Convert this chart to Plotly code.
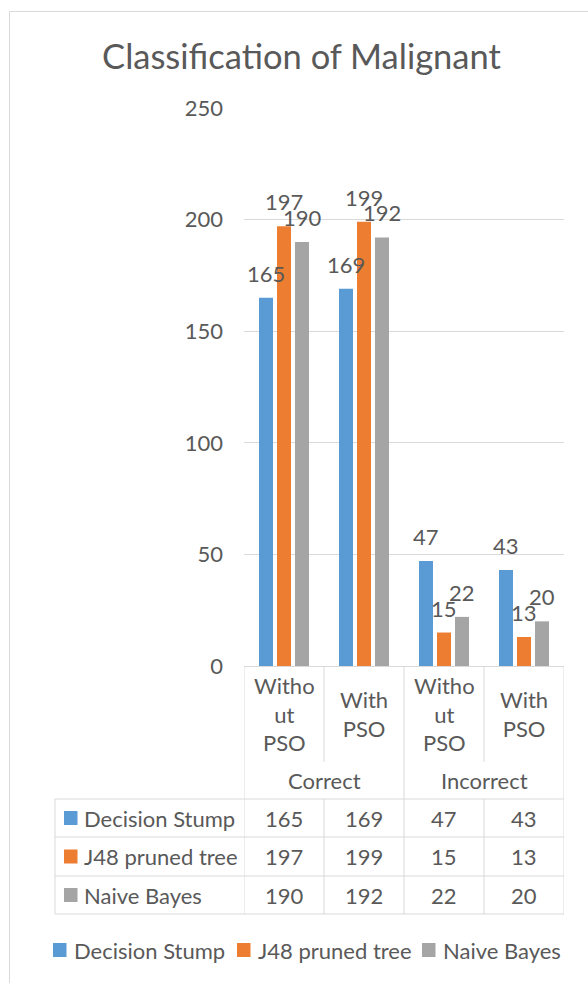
import plotly.graph_objects as go

# ---- data -------------------------------------------------------------
groups = ["Correct", "Correct", "Incorrect", "Incorrect"]
subgroups = ["Without PSO", "With PSO", "Without PSO", "With PSO"]
subgroup_labels = ["Witho<br>ut<br>PSO", "With<br>PSO", "Witho<br>ut<br>PSO", "With<br>PSO"]
group_labels = ["Correct", "Incorrect"]

series_names = ["Decision Stump", "J48 pruned tree", "Naive Bayes"]
decision_stump = [165, 169, 47, 43]
j48_pruned_tree = [197, 199, 15, 13]
naive_bayes = [190, 192, 22, 20]
series_values = [decision_stump, j48_pruned_tree, naive_bayes]
series_colors = ["#5B9BD5", "#ED7D31", "#A5A5A5"]

y_ticks = [0, 50, 100, 150, 200, 250]

# ---- styling ----------------------------------------------------------
FONT = "Lato"
TEXT = "#595959"
LINE = "#D9D9D9"
FS = 22

W, H = 588, 983
PL, PR, PT, PB = 244, 564, 108, 666   # plot area in pixels
BARGAP, GROUPGAP = 0.325, 0.222
LEGEND_ITEM_X = [53, 237, 422]        # left edge of each legend key
LEGEND_Y = 950


def fx(px):
    return (px - PL) / (PR - PL)


def fy(py):
    return (PB - py) / (PB - PT)


categories = [f"{g} - {s}" for g, s in zip(groups, subgroups)]

fig = go.Figure()
for name, vals, col in zip(series_names, series_values, series_colors):
    fig.add_trace(go.Bar(
        x=categories, y=vals, name=name,
        marker=dict(color=col, line=dict(width=0)),
        hoverinfo="x+y+name",
    ))

annotations = []
shapes = []

# value labels above the bars
n = len(series_values)
slot = (1 - BARGAP) / n
for k, vals in enumerate(series_values):
    for i, v in enumerate(vals):
        annotations.append(dict(
            x=i + (k - (n - 1) / 2) * slot, y=v, xref="x", yref="y",
            text=str(v), showarrow=False, yanchor="bottom", yshift=9,
            font=dict(family=FONT, size=FS, color=TEXT),
        ))

# category header cells
for i, lab in enumerate(subgroup_labels):
    annotations.append(dict(
        x=i, y=fy(714), xref="x", yref="paper", text=lab, showarrow=False,
        yanchor="middle", font=dict(family=FONT, size=FS, color=TEXT),
    ))
for j, lab in enumerate(group_labels):
    annotations.append(dict(
        x=2 * j + 0.5, y=fy(780), xref="x", yref="paper", text=lab,
        showarrow=False, yanchor="middle",
        font=dict(family=FONT, size=FS, color=TEXT),
    ))


def key(x_left, y_mid, col):
    shapes.append(dict(
        type="rect", xref="paper", yref="paper",
        x0=fx(x_left), x1=fx(x_left + 13.5), y0=fy(y_mid - 7), y1=fy(y_mid + 7),
        fillcolor=col, line=dict(width=0),
    ))


def key_label(x_left, y_mid, text):
    annotations.append(dict(
        x=fx(x_left), y=fy(y_mid), xref="paper", yref="paper", text=text,
        showarrow=False, xanchor="left", yanchor="middle",
        font=dict(family=FONT, size=FS, color=TEXT),
    ))


# data table rows
row_tops = [799, 837, 876]
row_bottom = 914
for r, (name, vals, col) in enumerate(zip(series_names, series_values, series_colors)):
    top = row_tops[r]
    bot = row_tops[r + 1] if r + 1 < len(row_tops) else row_bottom
    mid = (top + bot) / 2
    key(64, mid, col)
    key_label(82, mid, name)
    for i, v in enumerate(vals):
        annotations.append(dict(
            x=i, y=fy(mid), xref="x", yref="paper", text=str(v),
            showarrow=False, yanchor="middle",
            font=dict(family=FONT, size=FS, color=TEXT),
        ))

# legend below the table
for x_left, name, col in zip(LEGEND_ITEM_X, series_names, series_colors):
    key(x_left, LEGEND_Y, col)
    key_label(x_left + 19, LEGEND_Y, name)


def vline(xv, y0, y1):
    shapes.append(dict(type="line", xref="x", yref="paper", x0=xv, x1=xv,
                       y0=fy(y0), y1=fy(y1), line=dict(color=LINE, width=1)))


def hline(py):
    shapes.append(dict(type="line", xref="paper", yref="paper", x0=fx(55), x1=1,
                       y0=fy(py), y1=fy(py), line=dict(color=LINE, width=1)))


# table grid
for b in (-0.5, 1.5, 3.5):
    vline(b, PB, row_bottom)
for b in (0.5, 2.5):
    vline(b, PB, 762)
    vline(b, row_tops[0], row_bottom)
for py in row_tops + [row_bottom]:
    hline(py)
shapes.append(dict(type="line", xref="paper", yref="paper", x0=fx(55), x1=fx(55),
                   y0=fy(row_tops[0]), y1=fy(row_bottom), line=dict(color=LINE, width=1)))

# chart frame
shapes.append(dict(type="rect", xref="paper", yref="paper",
                   x0=fx(9.5), x1=fx(W + 20), y0=fy(H + 20), y1=fy(11.5),
                   line=dict(color=LINE, width=1), fillcolor="rgba(0,0,0,0)", layer="below"))

fig.update_layout(
    width=W, height=H,
    margin=dict(l=PL, r=W - PR, t=PT, b=H - PB, pad=0, autoexpand=False),
    paper_bgcolor="white", plot_bgcolor="white",
    font=dict(family=FONT, size=FS, color=TEXT),
    title=dict(text="Classification of Malignant", x=301.5 / W, xref="container",
               xanchor="center", y=1 - 57 / H, yref="container", yanchor="middle",
               font=dict(family=FONT, size=34.5, color=TEXT)),
    barmode="group", bargap=BARGAP, bargroupgap=GROUPGAP,
    xaxis=dict(showticklabels=False, showgrid=False, zeroline=False,
               showline=True, linecolor=LINE, linewidth=1, ticks="",
               range=[-0.5, 3.5], fixedrange=True),
    yaxis=dict(range=[0, 250], tickvals=y_ticks, showgrid=True, gridcolor=LINE,
               gridwidth=1, zeroline=False, showline=False, ticks="",
               ticklabelstandoff=20, tickfont=dict(family=FONT, size=FS, color=TEXT),
               fixedrange=True),
    annotations=annotations,
    shapes=shapes,
    showlegend=False,
)

fig.write_html("out.html")
